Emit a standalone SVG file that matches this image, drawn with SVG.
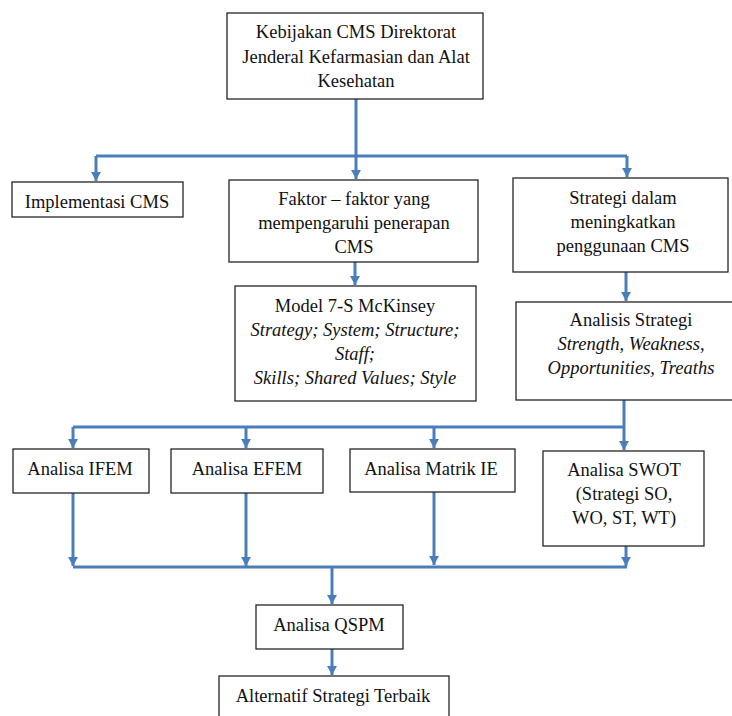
<svg xmlns="http://www.w3.org/2000/svg" width="732" height="716" viewBox="0 0 732 716">
<defs>
<marker id="ah" markerUnits="userSpaceOnUse" markerWidth="11" markerHeight="11" refX="9" refY="5" orient="auto">
<path d="M0,0 L9,5 L0,10 z" fill="#4a7ebb"/>
</marker>
<style>
rect.box{fill:#fff;stroke:#262626;stroke-width:1.3}
text{font-family:'Liberation Serif',Tinos,'Times New Roman','DejaVu Serif',serif;font-size:18.5px;fill:#111;text-anchor:middle}
.c{fill:none;stroke:#4a7ebb;stroke-width:3}
.a{marker-end:url(#ah)}
</style>
</defs>
<rect width="732" height="716" fill="#fff"/>
<g id="connectors">
<path class="c" d="M356,99 V156 M96,156 H627"/>
<path class="c a" d="M96,156 V181"/>
<path class="c a" d="M356,156 V179"/>
<path class="c a" d="M627,156 V177"/>
<path class="c a" d="M355,262 V285"/>
<path class="c a" d="M626,272 V301"/>
<path class="c" d="M624,400 V427 M73,427 H624"/>
<path class="c a" d="M73,427 V448"/>
<path class="c a" d="M246,427 V448"/>
<path class="c a" d="M434,427 V448"/>
<path class="c a" d="M624,427 V450"/>
<path class="c a" d="M73,493 V566"/>
<path class="c a" d="M246,493 V566"/>
<path class="c a" d="M434,492 V565"/>
<path class="c a" d="M626,546 V566"/>
<path class="c" d="M73,567 H627"/>
<path class="c a" d="M332,567 V604"/>
<path class="c a" d="M332,649 V675"/>
</g>
<g id="n-kebijakan">
<rect class="box" x="227" y="13" width="256" height="86"/>
<text x="356" y="38">Kebijakan CMS Direktorat</text>
<text x="356" y="63">Jenderal Kefarmasian dan Alat</text>
<text x="356" y="87">Kesehatan</text>
</g>
<g id="n-implementasi">
<rect class="box" x="12" y="182" width="171" height="35"/>
<text x="97" y="208">Implementasi CMS</text>
</g>
<g id="n-faktor">
<rect class="box" x="229" y="180" width="249" height="82"/>
<text x="354" y="205">Faktor – faktor yang</text>
<text x="354" y="229">mempengaruhi penerapan</text>
<text x="354" y="253">CMS</text>
</g>
<g id="n-strategi">
<rect class="box" x="513" y="178" width="215" height="94"/>
<text x="623" y="204">Strategi dalam</text>
<text x="623" y="228">meningkatkan</text>
<text x="623" y="252">penggunaan CMS</text>
</g>
<g id="n-model">
<rect class="box" x="235" y="286" width="241" height="115"/>
<text x="355" y="312">Model 7-S McKinsey</text>
<text x="355" y="336" font-style="italic">Strategy; System; Structure;</text>
<text x="355" y="360" font-style="italic">Staff;</text>
<text x="355" y="384" font-style="italic">Skills; Shared Values; Style</text>
</g>
<g id="n-analisis">
<rect class="box" x="516" y="302" width="220" height="98"/>
<text x="631" y="326">Analisis Strategi</text>
<text x="631" y="350" font-style="italic">Strength, Weakness,</text>
<text x="631" y="374" font-style="italic">Opportunities, Treaths</text>
</g>
<g id="n-ifem">
<rect class="box" x="13" y="449" width="136" height="44"/>
<text x="80" y="475">Analisa IFEM</text>
</g>
<g id="n-efem">
<rect class="box" x="171" y="449" width="152" height="44"/>
<text x="247" y="475">Analisa EFEM</text>
</g>
<g id="n-matrik">
<rect class="box" x="350" y="449" width="165" height="43"/>
<text x="431" y="475">Analisa Matrik IE</text>
</g>
<g id="n-swot">
<rect class="box" x="543" y="451" width="161" height="95"/>
<text x="624" y="476">Analisa SWOT</text>
<text x="624" y="500">(Strategi SO,</text>
<text x="624" y="524">WO, ST, WT)</text>
</g>
<g id="n-qspm">
<rect class="box" x="256" y="605" width="147" height="44"/>
<text x="329" y="631">Analisa QSPM</text>
</g>
<g id="n-alternatif">
<rect class="box" x="219" y="676" width="230" height="50"/>
<text x="333" y="702">Alternatif Strategi Terbaik</text>
</g>
</svg>
